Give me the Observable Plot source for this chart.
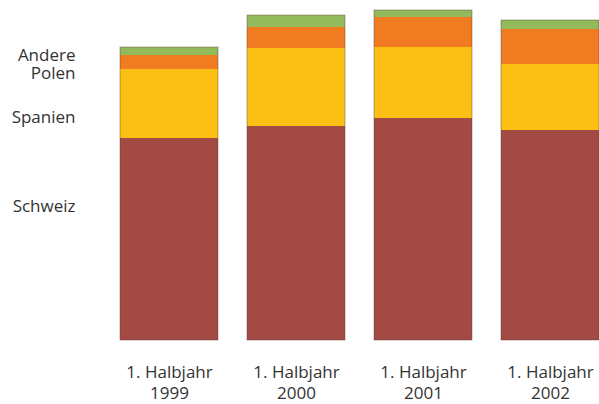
<!DOCTYPE html>
<html>
<head>
<meta charset="utf-8">
<script src="https://cdn.jsdelivr.net/npm/d3@7"></script>
<script src="https://cdn.jsdelivr.net/npm/@observablehq/plot@0.6"></script>
<style>
  html, body { margin: 0; padding: 0; background: #fff; overflow: hidden; }
</style>
</head>
<body>
<div id="chart"></div>
<script>
// Categories (x)
const years = ["1999", "2000", "2001", "2002"];
const tickPrefix = "1. Halbjahr";
// Series (stack order bottom -> top)
const series = ["Schweiz", "Spanien", "Polen", "Andere"];
const schweiz = [202, 214, 222, 210];
const spanien = [69, 78, 71, 66];
const polen = [14, 21, 30, 35];
const andere = [8, 12, 7, 9];
const colors = ["#A34A45", "#FCC015", "#F07B21", "#92BA5A"];
// Left-hand labels (series names placed as y-axis tick labels)
const labelTicks = [134, 223, 267, 285];
const labelNames = ["Schweiz", "Spanien", "Polen", "Andere"];

const valuesBySeries = [schweiz, spanien, polen, andere];
const data = [];
years.forEach((y, i) => {
  series.forEach((s, j) => data.push({year: y, series: s, value: valuesBySeries[j][i]}));
});
const totals = years.map((y, i) => ({year: y, value: valuesBySeries.reduce((a, v) => a + v[i], 0)}));

const font = "'Open Sans', 'Noto Sans', sans-serif";

const chart = Plot.plot({
  width: 599,
  height: 404,
  marginTop: 0,
  marginBottom: 64,
  marginLeft: 80,
  marginRight: 0,
  style: {fontFamily: font, fontSize: "17px", color: "#333", background: "#fff", overflow: "hidden"},
  x: {domain: years, range: [89, 630], padding: 0.227, label: null},
  y: {domain: [0, 340], label: null},
  color: {domain: series, range: colors},
  marks: [
    Plot.barY(data, {x: "year", y: "value", z: "series", fill: "series", order: series}),
    Plot.barY(totals, {x: "year", y: "value", fill: "none", stroke: "#5a3a36", strokeOpacity: 0.35, strokeWidth: 1.2}),
    Plot.axisX({
      label: null,
      tickSize: 0,
      tickPadding: 22,
      fontSize: 17,
      lineHeight: 1.25,
      fill: "#333",
      tickFormat: d => tickPrefix + "\n" + d
    }),
    Plot.axisY({
      label: null,
      ticks: labelTicks,
      tickSize: 0,
      tickPadding: 5,
      fontSize: 17,
      fill: "#333",
      tickFormat: (d) => labelNames[labelTicks.indexOf(d)]
    })
  ]
});
document.getElementById("chart").appendChild(chart);
</script>
</body>
</html>
